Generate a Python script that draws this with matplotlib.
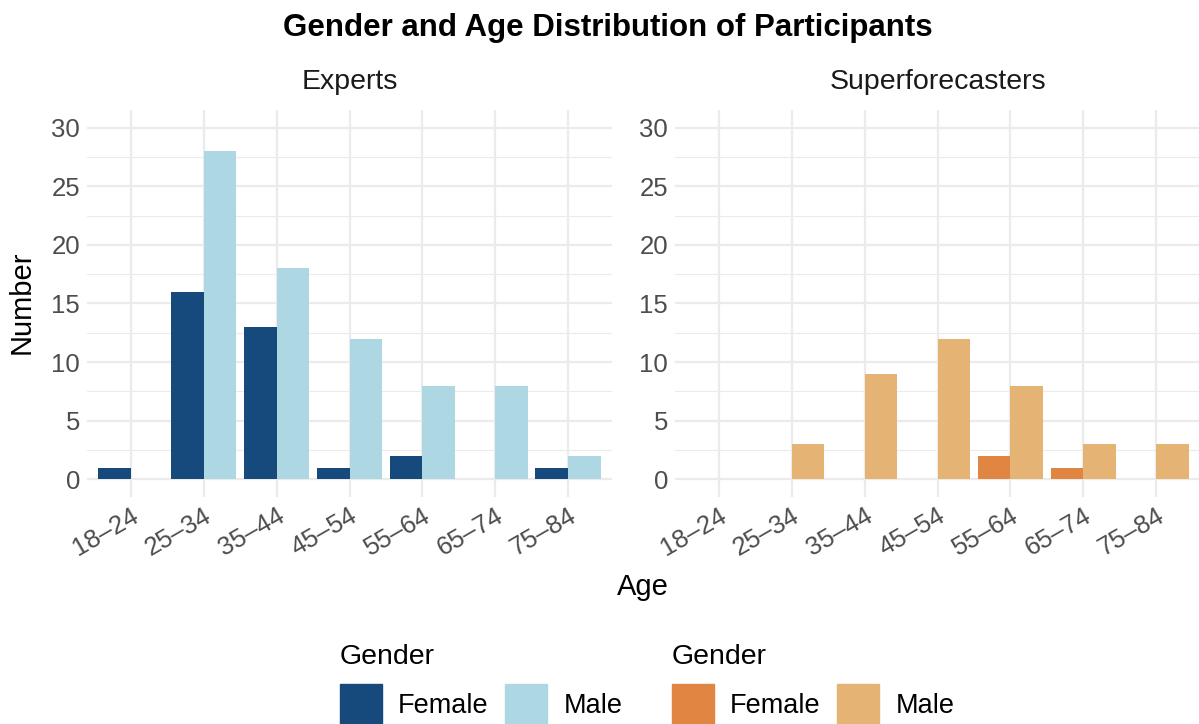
import matplotlib
matplotlib.use("Agg")
import matplotlib.pyplot as plt
from matplotlib.patches import Patch
import numpy as np

plt.rcParams["font.family"] = ["Liberation Sans", "DejaVu Sans"]

# data
age_groups = ["18–24", "25–34", "35–44", "45–54", "55–64", "65–74", "75–84"]
experts_female = [1, 16, 13, 1, 2, 0, 1]
experts_male = [0, 28, 18, 12, 8, 8, 2]
super_female = [0, 0, 0, 0, 2, 1, 0]
super_male = [0, 3, 9, 12, 8, 3, 3]

panels = [
    ("Experts", experts_female, experts_male, "#174A7C", "#ADD8E3"),
    ("Superforecasters", super_female, super_male, "#E08642", "#E5B474"),
]

W, H = 1199, 724
fig = plt.figure(figsize=(W / 100, H / 100), dpi=100)

grid_col = "#EBEBEB"
tick_col = "#4D4D4D"
x = np.arange(len(age_groups))
bw = 0.45

axes_px = [(87, 612), (675, 1200)]
top_px, bot_px = 110, 497

for (name, fem, male, c_f, c_m), (l, r) in zip(panels, axes_px):
    ax = fig.add_axes([l / W, 1 - bot_px / H, (r - l) / W, (bot_px - top_px) / H])
    ax.bar(x - bw / 2, fem, width=bw, color=c_f, zorder=3)
    ax.bar(x + bw / 2, male, width=bw, color=c_m, zorder=3)
    ax.set_xlim(-0.6, len(age_groups) - 1 + 0.6)
    ax.set_ylim(-1.5, 31.5)
    ax.set_yticks([0, 5, 10, 15, 20, 25, 30])
    ax.set_yticks([2.5, 7.5, 12.5, 17.5, 22.5, 27.5], minor=True)
    ax.set_xticks(x)
    ax.set_xticklabels(age_groups, rotation=30, ha="right", rotation_mode="anchor")
    ax.grid(True, which="major", color=grid_col, lw=1.6, zorder=0)
    ax.grid(True, which="minor", axis="y", color=grid_col, lw=0.8, zorder=0)
    ax.tick_params(which="both", length=0, labelsize=18.5, colors=tick_col, pad=5)
    for s in ax.spines.values():
        s.set_visible(False)
    ax.set_title(name, fontsize=20.5, color="#1A1A1A", pad=15)

fig.text(0.507, 0.962, "Gender and Age Distribution of Participants",
         ha="center", va="center", fontsize=22.5, fontweight="bold")
fig.text(22 / W, 1 - 302 / H, "Number", rotation=90, ha="center", va="center",
         fontsize=21)
fig.text(643 / W, 1 - 587 / H, "Age", ha="center", va="center", fontsize=21)

for i, (name, fem, male, c_f, c_m) in enumerate(panels):
    handles = [Patch(color=c_f), Patch(color=c_m)]
    xpos = [340, 672][i]
    leg = fig.legend(handles, ["Female", "Male"], title="Gender", ncol=2,
                     loc="upper left", bbox_to_anchor=(xpos / W, 1 - 644 / H),
                     frameon=False, fontsize=19.5, title_fontsize=20.5,
                     handlelength=1.55, handleheight=2.0, handletextpad=0.6,
                     columnspacing=0.6, borderaxespad=0, borderpad=0,
                     alignment="left")

fig.savefig("out.png", dpi=100)
